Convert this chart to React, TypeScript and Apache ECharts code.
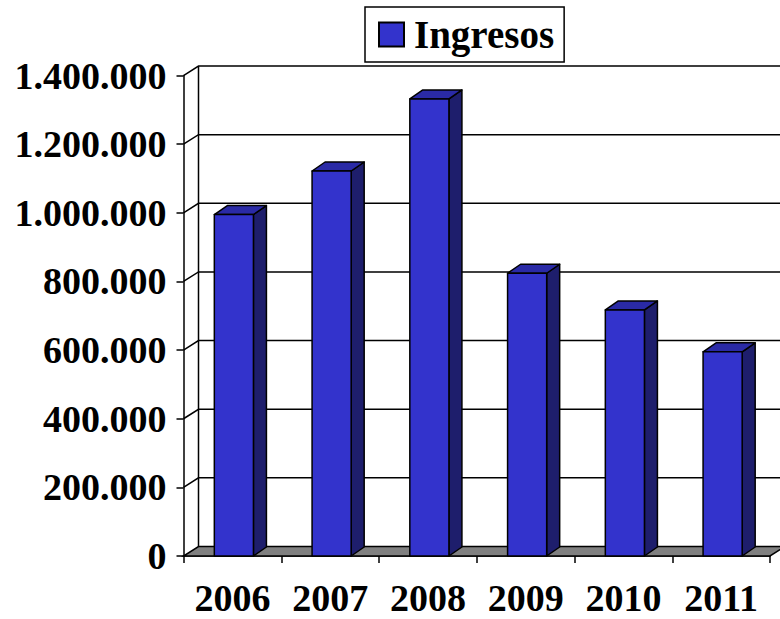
import React, { useEffect, useRef } from "react";
import * as echarts from "echarts";

const years = ["2006", "2007", "2008", "2009", "2010", "2011"];
const ingresos = [995000, 1122000, 1332000, 824000, 717000, 595000];
const yTicks = [0, 200000, 400000, 600000, 800000, 1000000, 1200000, 1400000];
const yMax = 1400000;
const yInterval = 200000;
const seriesName = "Ingresos";

const FONT = "'Liberation Serif', 'Times New Roman', serif";
const FRONT = "#3333CC";
const TOP = "#2A2AA6";
const SIDE = "#1E1E6C";
const FLOOR = "#808080";
const BDX = 13;
const BDY = 9;
const WDX = 15;
const WDY = 9.5;
const BAR_OFF = 1.5;

function fmt(v: number): string {
  return String(v).replace(/\B(?=(\d{3})+(?!\d))/g, ".");
}

export default function App() {
  const ref = useRef<HTMLDivElement>(null);
  useEffect(() => {
    if (!ref.current) return;
    const chart = echarts.init(ref.current, null, { renderer: "svg" });
    const option: any = {
      animation: false,
      backgroundColor: "#fff",
      legend: {
        data: [seriesName],
        left: 365,
        top: 7,
        padding: [8, 10, 8, 13],
        borderColor: "#000",
        borderWidth: 1.5,
        icon: "rect",
        itemWidth: 25,
        itemHeight: 24,
        textStyle: {
          fontFamily: FONT,
          fontWeight: "bold",
          fontSize: 39,
          lineHeight: 38,
          color: "#000",
          padding: [0, 0, 0, 5],
        },
      },
      grid: { left: 183.5, right: 10, top: 75.6, bottom: 63, containLabel: false },
      xAxis: {
        type: "category",
        data: years,
        axisLine: { show: true, lineStyle: { color: "#000", width: 1.5 } },
        axisTick: { show: true, interval: 0, length: 7, lineStyle: { color: "#000", width: 1.5 } },
        axisLabel: {
          interval: 0,
          hideOverlap: false,
          margin: 27,
          fontFamily: FONT,
          fontWeight: "bold",
          fontSize: 38,
          lineHeight: 30,
          color: "#000",
        },
        splitLine: { show: false },
      },
      yAxis: {
        type: "value",
        min: 0,
        max: yMax,
        interval: yInterval,
        axisLine: { show: true, lineStyle: { color: "#000", width: 1.5 } },
        axisTick: { show: true, length: 7, lineStyle: { color: "#000", width: 1.5 } },
        axisLabel: {
          margin: 17,
          fontFamily: FONT,
          fontWeight: "bold",
          fontSize: 38,
          lineHeight: 36,
          padding: [5, 0, 0, 0],
          color: "#000",
          formatter: (v: number) => fmt(v),
        },
        splitLine: { show: false },
      },
      series: [
        {
          type: "custom",
          name: "wall",
          z: 1,
          silent: true,
          data: yTicks.map((v) => [0, v]),
          encode: { x: 0, y: 1 },
          renderItem: (params: any, api: any) => {
            const cs = params.coordSys;
            const v = api.value(1);
            const y = api.coord([0, v])[1];
            const yBottom = api.coord([0, 0])[1];
            const x0 = cs.x;
            const xR = cs.x + cs.width;
            const children: any[] = [];
            if (v === 0) {
              children.push({
                type: "polygon",
                shape: {
                  points: [
                    [x0, y],
                    [xR, y],
                    [xR + WDX, y - WDY],
                    [x0 + WDX, y - WDY],
                  ],
                },
                style: { fill: FLOOR, stroke: "#000", lineWidth: 1.5 },
              });
            } else {
              children.push({
                type: "polyline",
                shape: {
                  points: [
                    [x0, y],
                    [x0 + WDX, y - WDY],
                    [xR + WDX, y - WDY],
                  ],
                },
                style: { fill: "none", stroke: "#000", lineWidth: 1.5 },
              });
            }
            if (v === yMax) {
              children.push({
                type: "line",
                shape: { x1: x0 + WDX, y1: y - WDY, x2: x0 + WDX, y2: yBottom - WDY },
                style: { stroke: "#000", lineWidth: 1.5 },
              });
            }
            return { type: "group", children };
          },
        },
        {
          type: "custom",
          name: seriesName,
          z: 3,
          itemStyle: { color: FRONT, borderColor: "#000", borderWidth: 1 },
          data: ingresos.map((v, i) => [i, v]),
          encode: { x: 0, y: 1 },
          renderItem: (params: any, api: any) => {
            const idx = api.value(0);
            const v = api.value(1);
            const top = api.coord([idx, v]);
            const base = api.coord([idx, 0]);
            const bw = api.size([1, 0])[0] * 0.4;
            const xl = top[0] - bw / 2 + BAR_OFF;
            const xr = xl + bw;
            const ty = top[1];
            const by = base[1];
            const st = { stroke: "#000", lineWidth: 1.5, lineJoin: "round" };
            return {
              type: "group",
              children: [
                {
                  type: "polygon",
                  shape: {
                    points: [
                      [xr, ty],
                      [xr + BDX, ty - BDY],
                      [xr + BDX, by - BDY],
                      [xr, by],
                    ],
                  },
                  style: { fill: SIDE, ...st },
                },
                {
                  type: "polygon",
                  shape: {
                    points: [
                      [xl, ty],
                      [xl + BDX, ty - BDY],
                      [xr + BDX, ty - BDY],
                      [xr, ty],
                    ],
                  },
                  style: { fill: TOP, ...st },
                },
                {
                  type: "rect",
                  shape: { x: xl, y: ty, width: bw, height: by - ty },
                  style: { fill: FRONT, ...st },
                },
              ],
            };
          },
        },
      ],
    };
    chart.setOption(option);
    return () => chart.dispose();
  }, []);
  return (
    <div
      ref={ref}
      style={{ position: "fixed", left: 0, top: 0, width: 780, height: 619 }}
    />
  );
}
